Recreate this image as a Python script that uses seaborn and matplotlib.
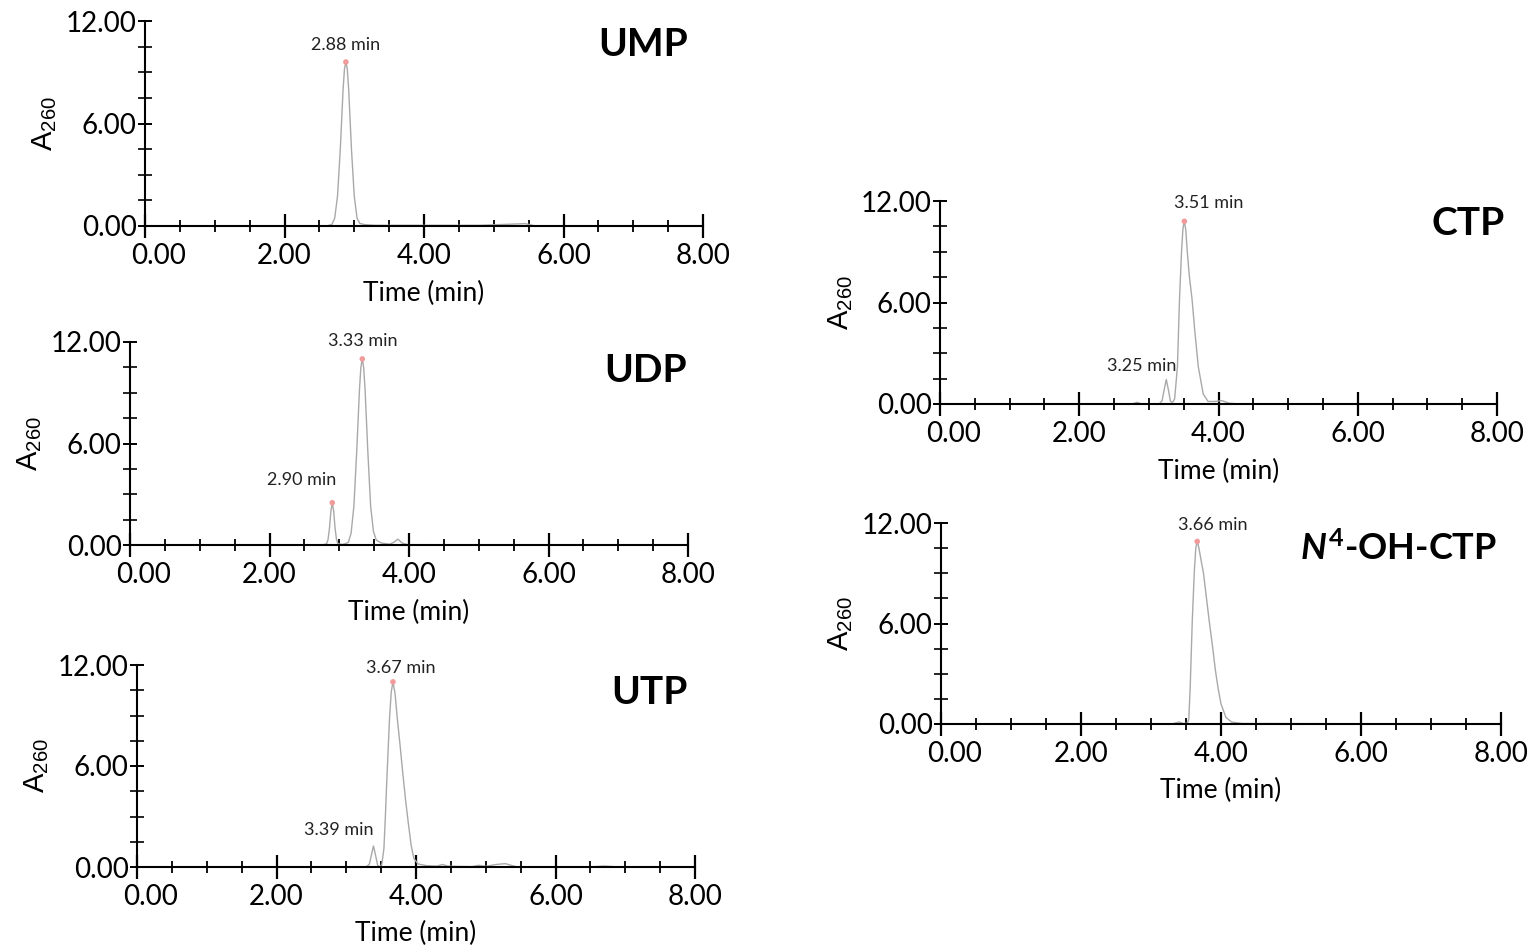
import matplotlib
matplotlib.use("Agg")
import matplotlib.pyplot as plt
import matplotlib.transforms as mtransforms
from matplotlib.ticker import FixedLocator, MultipleLocator, FormatStrFormatter
import pandas as pd
import seaborn as sns

# ---------------- chromatogram traces (time in min, A260) ----------------
ump_time = [0.00, 2.60, 2.68, 2.72, 2.76, 2.80, 2.84, 2.86, 2.88, 2.90, 2.92,
            2.96, 3.00, 3.04, 3.08, 3.15, 3.30, 4.80, 5.20, 5.45, 5.60, 8.00]
ump_a260 = [0.00, 0.00, 0.09, 0.46, 1.75, 4.50, 8.00, 9.20, 9.60, 9.20, 8.00,
            4.50, 1.75, 0.46, 0.15, 0.08, 0.04, 0.04, 0.10, 0.14, 0.00, 0.00]
ump_peak_rt = [2.88]
ump_peak_height = [9.60]
ump_peak_marked = [True]

udp_time = [0.00, 2.76, 2.82, 2.84, 2.86, 2.88, 2.90, 2.92, 2.94, 2.96, 2.98,
            3.05, 3.13, 3.17, 3.21, 3.25, 3.29, 3.31, 3.33, 3.35, 3.37, 3.41,
            3.45, 3.49, 3.53, 3.60, 3.72, 3.78, 3.84, 3.90, 3.98, 8.00]
udp_a260 = [0.00, 0.00, 0.08, 0.34, 1.00, 2.00, 2.50, 2.00, 1.00, 0.34, 0.08,
            0.03, 0.15, 0.70, 2.30, 5.50, 9.20, 10.5, 11.0, 10.5, 9.20, 5.50,
            2.30, 0.80, 0.30, 0.12, 0.05, 0.15, 0.35, 0.12, 0.02, 0.00]
udp_peak_rt = [2.90, 3.33]
udp_peak_height = [2.50, 11.0]
udp_peak_marked = [True, True]

utp_time = [0.00, 3.28, 3.33, 3.36, 3.39, 3.42, 3.45, 3.48, 3.51, 3.54, 3.56,
            3.58, 3.60, 3.62, 3.645, 3.67, 3.70, 3.73, 3.77, 3.81, 3.85, 3.89,
            3.93, 3.97, 4.03, 4.15, 4.30, 4.38, 4.46, 4.80, 4.90, 5.00, 5.15,
            5.28, 5.45, 6.50, 6.70, 6.90, 8.00]
utp_a260 = [0.00, 0.00, 0.15, 0.70, 1.25, 0.70, 0.10, 0.02, 0.15, 1.10, 2.90,
            5.00, 6.90, 8.80, 10.4, 11.0, 10.3, 8.90, 7.30, 5.60, 4.00, 2.60,
            1.30, 0.50, 0.18, 0.08, 0.05, 0.15, 0.05, 0.02, 0.10, 0.04, 0.15,
            0.20, 0.00, 0.00, 0.06, 0.00, 0.00]
utp_peak_rt = [3.39, 3.67]
utp_peak_height = [1.25, 11.0]
utp_peak_marked = [False, True]

ctp_time = [0.00, 2.76, 2.83, 2.90, 3.15, 3.19, 3.22, 3.25, 3.28, 3.31, 3.34,
            3.37, 3.41, 3.44, 3.47, 3.49, 3.51, 3.53, 3.55, 3.58, 3.62, 3.66,
            3.71, 3.78, 3.85, 3.95, 4.05, 4.15, 4.30, 8.00]
ctp_a260 = [0.00, 0.00, 0.10, 0.00, 0.00, 0.20, 0.85, 1.45, 0.85, 0.15, 0.10,
            0.30, 2.20, 6.20, 9.10, 10.4, 10.8, 10.3, 9.10, 7.60, 6.20, 4.30,
            2.20, 0.60, 0.15, 0.15, 0.20, 0.05, 0.00, 0.00]
ctp_peak_rt = [3.25, 3.51]
ctp_peak_height = [1.45, 10.8]
ctp_peak_marked = [False, True]

n4oh_time = [0.00, 3.30, 3.40, 3.46, 3.52, 3.54, 3.56, 3.59, 3.62, 3.64, 3.66,
             3.68, 3.71, 3.75, 3.79, 3.83, 3.88, 3.92, 3.96, 4.00, 4.07, 4.15,
             4.30, 8.00]
n4oh_a260 = [0.00, 0.00, 0.12, 0.03, 0.05, 0.30, 2.20, 6.20, 9.20, 10.5, 10.9,
             10.6, 9.90, 9.00, 7.60, 6.20, 4.60, 3.20, 2.10, 1.20, 0.40, 0.12,
             0.03, 0.00]
n4oh_peak_rt = [3.66]
n4oh_peak_height = [10.9]
n4oh_peak_marked = [True]

time_ticks = [0.0, 2.0, 4.0, 6.0, 8.0]
a260_ticks = [0.0, 6.0, 12.0]

# ---------------- style ----------------
sns.set_theme(style="white")
plt.rcParams["font.family"] = ["Lato", "DejaVu Sans"]
plt.rcParams["mathtext.fontset"] = "custom"
plt.rcParams["mathtext.rm"] = "Lato"
plt.rcParams["mathtext.it"] = "Lato:italic:bold"
plt.rcParams["mathtext.bf"] = "Lato:bold"
for key in ("text.color", "axes.labelcolor", "xtick.color", "ytick.color",
            "axes.edgecolor"):
    plt.rcParams[key] = "black"

TRACE_COLOR = "#a9a9a9"
APEX_COLOR = "#f29a9a"

W, H = 1539, 949
fig = plt.figure(figsize=(W / 100, H / 100), dpi=100)


def px_rect(left, right, bottom, top):
    return [left / W, 1 - bottom / H, (right - left) / W, (bottom - top) / H]


panels = [
    dict(title="UMP", title_size=28, time=ump_time, a260=ump_a260,
         rt=ump_peak_rt, height=ump_peak_height, marked=ump_peak_marked,
         rect=px_rect(145, 703, 226, 21), title_xy=(0.973, 0.883),
         label_style=[("center", (0, 17))]),
    dict(title="UDP", title_size=28, time=udp_time, a260=udp_a260,
         rt=udp_peak_rt, height=udp_peak_height, marked=udp_peak_marked,
         rect=px_rect(130, 688, 545, 342), title_xy=(0.998, 0.862),
         label_style=[("right", (4, 23)), ("center", (0, 18))]),
    dict(title="UTP", title_size=28, time=utp_time, a260=utp_a260,
         rt=utp_peak_rt, height=utp_peak_height, marked=utp_peak_marked,
         rect=px_rect(137, 695, 867, 665), title_xy=(0.986, 0.866),
         label_style=[("right", (0, 16)), ("center", (8, 14))]),
    dict(title="CTP", title_size=28, time=ctp_time, a260=ctp_a260,
         rt=ctp_peak_rt, height=ctp_peak_height, marked=ctp_peak_marked,
         rect=px_rect(940, 1497, 404, 201), title_xy=(1.014, 0.887),
         label_style=[("right", (10, 13)), ("center", (24, 18))]),
    dict(title=r"$\mathit{N}^{\mathbf{4}}$-OH-CTP", title_size=26,
         time=n4oh_time, a260=n4oh_a260, rt=n4oh_peak_rt,
         height=n4oh_peak_height, marked=n4oh_peak_marked,
         rect=px_rect(941, 1501, 724, 523), title_xy=(0.993, 0.876),
         label_style=[("center", (16, 16))]),
]

for p in panels:
    ax = fig.add_axes(p["rect"])
    trace = pd.DataFrame({"Time": p["time"], "A260": p["a260"]})
    sns.lineplot(data=trace, x="Time", y="A260", ax=ax, color=TRACE_COLOR,
                 linewidth=1.0, estimator=None, sort=False)
    for ln in ax.lines:
        ln.set_clip_on(False)

    apex = pd.DataFrame({"rt": p["rt"], "h": p["height"], "m": p["marked"]})
    marked = apex[apex["m"]]
    sns.scatterplot(data=marked, x="rt", y="h", ax=ax, color=APEX_COLOR,
                    s=16, edgecolor="none", zorder=4, clip_on=False)

    for (rt, h), (ha, off) in zip(zip(p["rt"], p["height"]), p["label_style"]):
        ax.annotate(f"{rt:.2f} min", xy=(rt, h), xytext=off,
                    textcoords="offset pixels", ha=ha, va="center",
                    fontsize=13, color="#222222")

    ax.set_xlim(time_ticks[0], time_ticks[-1])
    ax.set_ylim(a260_ticks[0], a260_ticks[-1])
    ax.xaxis.set_major_locator(FixedLocator(time_ticks))
    ax.xaxis.set_minor_locator(MultipleLocator(0.5))
    ax.yaxis.set_major_locator(FixedLocator(a260_ticks))
    ax.yaxis.set_minor_locator(MultipleLocator(1.5))
    ax.xaxis.set_major_formatter(FormatStrFormatter("%.2f"))
    ax.yaxis.set_major_formatter(FormatStrFormatter("%.2f"))

    for side in ("top", "right"):
        ax.spines[side].set_visible(False)
    for side in ("left", "bottom"):
        ax.spines[side].set_linewidth(1.5)
        ax.spines[side].set_color("black")

    ax.tick_params(axis="x", which="major", bottom=True, direction="inout",
                   length=17, width=1.6, labelsize=20, pad=4)
    ax.tick_params(axis="x", which="minor", bottom=True, direction="inout",
                   length=8, width=1.3)
    ax.tick_params(axis="y", which="major", left=True, direction="inout",
                   length=10, width=1.4, labelsize=20, pad=1)
    ax.tick_params(axis="y", which="minor", left=True, direction="inout",
                   length=10, width=1.2)

    # nudge the "0.00" time label clear of the absorbance axis
    first = ax.xaxis.get_major_ticks()[0]
    shift = mtransforms.ScaledTranslation(14 / 100, 0, fig.dpi_scale_trans)
    first.label1.set_transform(first.label1.get_transform() + shift)

    ax.set_xlabel("Time (min)", fontsize=19)
    ax.xaxis.set_label_coords(0.5, -0.33)
    ax.xaxis.label.set_va("center")
    ax.set_ylabel(r"A$_{\mathregular{260}}$", fontsize=21,
                  family="Liberation Sans")
    ax.yaxis.set_label_coords(-0.179, 0.5)
    ax.yaxis.label.set_va("center")
    ax.yaxis.label.set_ha("center")

    ax.text(*p["title_xy"], p["title"], transform=ax.transAxes, ha="right",
            va="center", fontsize=p["title_size"], fontweight="bold")

fig.savefig("out.png", dpi=100, facecolor="white")
